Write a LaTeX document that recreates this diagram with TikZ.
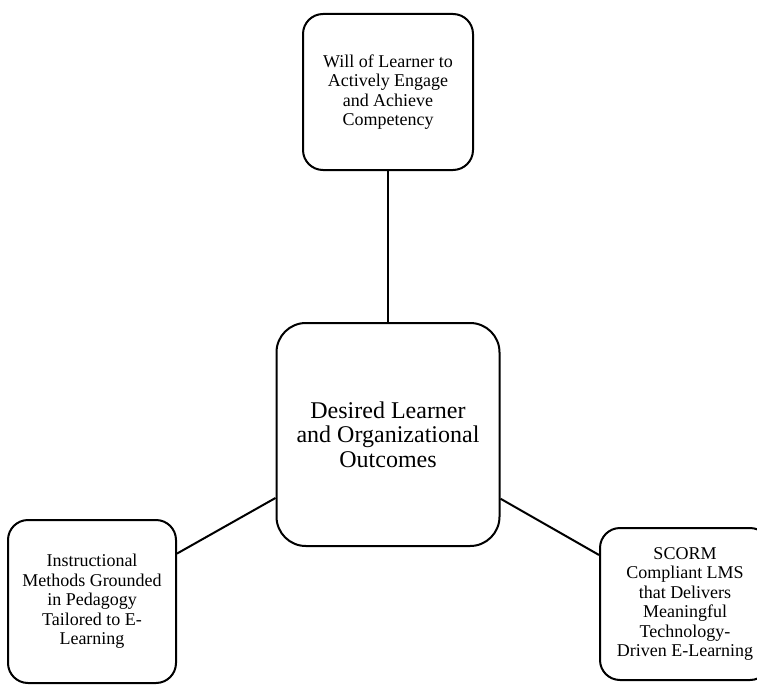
\documentclass[tikz,border=0pt]{standalone}
\usepackage{fontspec}
\setmainfont{Liberation Serif}
\begin{document}
\begin{tikzpicture}
  [x=0.75pt,y=-0.75pt,line width=1.5pt,
   every node/.style={draw=black,thick,line width=1.5pt,align=center,inner sep=0pt,
     font=\fontsize{13.5}{14.6}\selectfont},
   outcome/.style={rounded corners=22pt,font=\fontsize{18}{18.5}\selectfont},
   factor/.style={rounded corners=15pt}]

  \useasboundingbox (0,0) rectangle (757,685);

  % Centre box
  \node[outcome, minimum width=223*0.75pt, minimum height=223*0.75pt] (outcome) at (388,434.5)
    {Desired Learner\\and Organizational\\Outcomes};

  % Three surrounding factors
  \node[factor, minimum width=170*0.75pt, minimum height=156*0.75pt] (learner) at (388,92)
    {Will of Learner to\\Actively Engage\\and Achieve\\Competency};
  \node[factor, minimum width=168*0.75pt, minimum height=163*0.75pt] (pedagogy) at (92,601.5)
    {Instructional\\Methods Grounded\\in Pedagogy\\Tailored to E-\\Learning};
  \node[factor, minimum width=170*0.75pt, minimum height=152*0.75pt] (lms) at (685,604)
    {SCORM\\Compliant LMS\\that Delivers\\Meaningful\\Technology-\\Driven E-Learning};

  % Connections to the centre
  \draw (outcome) -- (learner);
  \draw (outcome) -- (pedagogy);
  \draw (outcome) -- (lms);

\end{tikzpicture}
\end{document}
